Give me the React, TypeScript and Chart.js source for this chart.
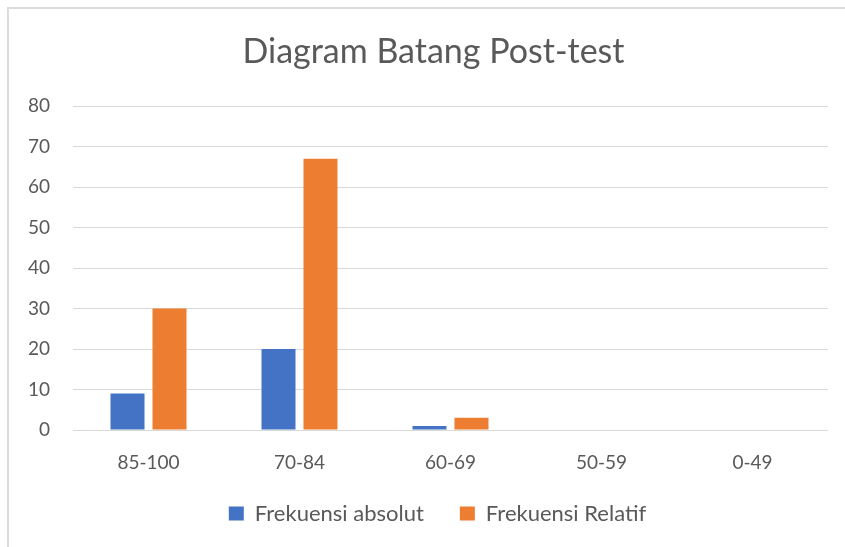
import React, { useEffect, useRef } from "react";
import { Chart, registerables } from "chart.js";

Chart.register(...registerables);

const categories = ["85-100", "70-84", "60-69", "50-59", "0-49"];
const absolut = [9, 20, 1, 0, 0];
const relatif = [30, 67, 3, 0, 0];
const seriesNames = ["Frekuensi absolut", "Frekuensi Relatif"];
const titleText = "Diagram Batang Post-test";

const FONT = "Lato, 'Open Sans', sans-serif";
const TEXT = "#595959";

const shiftPlugin = {
  id: "shiftBoxes",
  afterLayout(chart: any) {
    const t = chart.titleBlock;
    if (t) {
      t.left += 9.5;
      t.right += 9.5;
    }
    const l = chart.legend;
    if (l) {
      l.left += 13.5;
      l.right += 13.5;
      l.top -= 7.5;
      l.bottom -= 7.5;
    }
  },
};

export default function App() {
  const ref = useRef<HTMLCanvasElement | null>(null);
  useEffect(() => {
    if (!ref.current) return;
    const chart = new Chart(ref.current, {
      type: "bar",
      data: {
        labels: categories,
        datasets: [
          {
            label: seriesNames[0],
            data: absolut,
            backgroundColor: "#4472C4",
            categoryPercentage: 0.556,
            barPercentage: 0.81,
          },
          {
            label: seriesNames[1],
            data: relatif,
            backgroundColor: "#ED7D31",
            categoryPercentage: 0.556,
            barPercentage: 0.81,
          },
        ],
      },
      options: {
        animation: false,
        responsive: false,
        maintainAspectRatio: false,
        layout: { padding: { left: 20, right: 17, top: 10, bottom: 5 } },
        plugins: {
          tooltip: { enabled: false },
          title: {
            display: true,
            text: titleText,
            color: TEXT,
            font: { family: FONT, size: 34, weight: "normal", lineHeight: 1.2 },
            padding: { top: 22, bottom: 33.2 },
          },
          legend: {
            position: "bottom",
            labels: {
              color: TEXT,
              font: { family: FONT, size: 22 },
              boxWidth: 15,
              boxHeight: 14,
              padding: 36,
            },
          },
        },
        scales: {
          x: {
            grid: { display: false, drawTicks: false },
            border: { display: false },
            ticks: { color: TEXT, font: { family: FONT, size: 19 }, padding: 21 },
            afterFit: (s: any) => {
              s.height = 44;
            },
          },
          y: {
            min: 0,
            max: 80,
            grid: { color: "#d9d9d9", lineWidth: 1, drawTicks: false },
            border: { display: false },
            ticks: { color: TEXT, font: { family: FONT, size: 19 }, padding: 23, stepSize: 10 },
            afterFit: (s: any) => {
              s.width = 53;
            },
          },
        },
      },
      plugins: [shiftPlugin],
    });
    return () => chart.destroy();
  }, []);
  return (
    <div style={{ position: "fixed", left: 0, top: 0, width: 845, height: 547, overflow: "hidden", background: "#fff" }}>
      <div
        style={{
          position: "absolute",
          left: 7,
          top: 7,
          width: 900,
          height: 600,
          border: "2px solid #dcdcdc",
          boxSizing: "border-box",
        }}
      />
      <canvas ref={ref} width={845} height={547} style={{ position: "absolute", left: 0, top: 0 }} />
    </div>
  );
}
